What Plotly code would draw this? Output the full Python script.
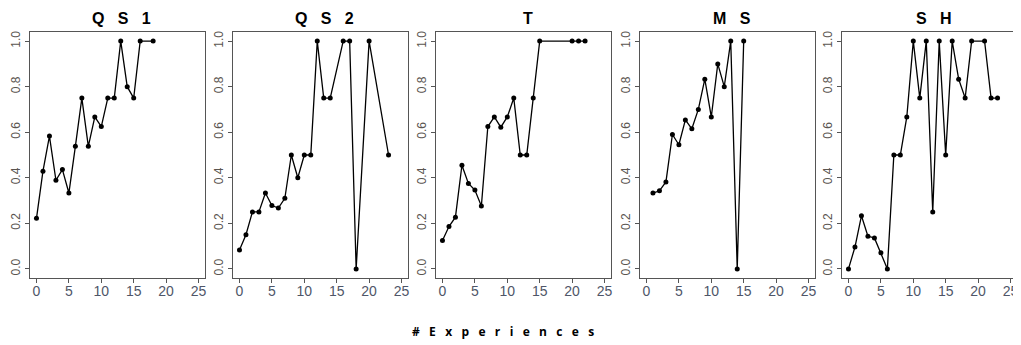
import plotly.graph_objects as go

titles = ["Q S 1", "Q S 2", "T", "M S", "S H"]

qs1_x = [0, 1, 2, 3, 4, 5, 6, 7, 8, 9, 10, 11, 12, 13, 14, 15, 16, 18]
qs1_y = [0.222, 0.429, 0.583, 0.389, 0.436, 0.333, 0.538, 0.75, 0.538, 0.667, 0.625, 0.75, 0.75, 1.0, 0.8, 0.75, 1.0, 1.0]

qs2_x = [0, 1, 2, 3, 4, 5, 6, 7, 8, 9, 10, 11, 12, 13, 14, 16, 17, 18, 20, 23]
qs2_y = [0.083, 0.15, 0.25, 0.25, 0.333, 0.278, 0.267, 0.31, 0.5, 0.4, 0.5, 0.5, 1.0, 0.75, 0.75, 1.0, 1.0, 0.0, 1.0, 0.5]

t_x = [0, 1, 2, 3, 4, 5, 6, 7, 8, 9, 10, 11, 12, 13, 14, 15, 20, 21, 22]
t_y = [0.125, 0.186, 0.227, 0.455, 0.375, 0.346, 0.276, 0.625, 0.667, 0.622, 0.667, 0.75, 0.5, 0.5, 0.75, 1.0, 1.0, 1.0, 1.0]

ms_x = [1, 2, 3, 4, 5, 6, 7, 8, 9, 10, 11, 12, 13, 14, 15]
ms_y = [0.333, 0.343, 0.382, 0.59, 0.545, 0.654, 0.615, 0.70, 0.833, 0.667, 0.90, 0.80, 1.0, 0.0, 1.0]

sh_x = [0, 1, 2, 3, 4, 5, 6, 7, 8, 9, 10, 11, 12, 13, 14, 15, 16, 17, 18, 19, 21, 22, 23]
sh_y = [0.0, 0.096, 0.233, 0.143, 0.136, 0.071, 0.0, 0.5, 0.5, 0.667, 1.0, 0.75, 1.0, 0.25, 1.0, 0.5, 1.0, 0.833, 0.75, 1.0, 1.0, 0.75, 0.75]

x_ticks = [0, 5, 10, 15, 20, 25]
y_ticks = [0.0, 0.2, 0.4, 0.6, 0.8, 1.0]
y_tick_labels = ["0.0", "0.2", "0.4", "0.6", "0.8", "1.0"]
x_label = "# E x p e r i e n c e s"

series = [(qs1_x, qs1_y), (qs2_x, qs2_y), (t_x, t_y), (ms_x, ms_y), (sh_x, sh_y)]

# The page body has an 8px default margin, so the figure is sized / positioned to compensate.
OFF = 8
W, H = 1021 - OFF, 345 - OFF
lefts = [30 - OFF, 233 - OFF, 436 - OFF, 640 - OFF, 842 - OFF]
width_px = 175
top_px, bottom_px = 32 - OFF, 278 - OFF

fig = go.Figure()
font_family = "Liberation Sans, Arial, sans-serif"
nb = "\u00a0"

layout = dict(
    template="none",
    width=W, height=H,
    margin=dict(l=0, r=0, t=0, b=0, pad=0),
    paper_bgcolor="white", plot_bgcolor="white",
    showlegend=False,
    font=dict(family=font_family, color="#4a4f5a", size=13),
)

annotations = []
for i, (xs, ys) in enumerate(series):
    n = "" if i == 0 else str(i + 1)
    fig.add_trace(go.Scatter(
        x=xs, y=ys, mode="lines+markers",
        line=dict(color="black", width=1.3),
        marker=dict(color="black", size=5),
        xaxis="x" + n, yaxis="y" + n,
        cliponaxis=False,
    ))
    x0 = lefts[i] / W
    x1 = (lefts[i] + width_px) / W
    common = dict(
        showline=True, mirror=True, linecolor="#555555", linewidth=1,
        showgrid=False, zeroline=False, ticks="outside", ticklen=4,
        tickcolor="#555555", tickwidth=1, automargin=False,
    )
    layout["xaxis" + n] = dict(
        domain=[x0, x1], range=[-1, 26], tickvals=x_ticks,
        anchor="y" + n, tickfont=dict(size=14, color="#4f5668"),
        ticklabelstandoff=-4, **common,
    )
    layout["yaxis" + n] = dict(
        domain=[(H - bottom_px) / H, (H - top_px) / H], range=[-0.04, 1.04],
        tickvals=y_ticks, ticktext=y_tick_labels, tickangle=-90,
        anchor="x" + n, tickfont=dict(size=12, color="#5a5550"), **common,
    )
    title_txt = (nb * 3).join(titles[i].split(" "))
    annotations.append(dict(
        text="<b>" + title_txt + "</b>", xref="paper", yref="paper",
        x=(lefts[i] + width_px / 2 + 4) / W, y=(H - 10.5) / H,
        showarrow=False, xanchor="center", yanchor="middle", borderpad=0,
        font=dict(size=16, color="black", family=font_family),
    ))

annotations.append(dict(
    text="<b>" + (nb * 3).join(x_label.split(" ")) + "</b>",
    xref="paper", yref="paper", x=(503 - OFF) / W, y=(H - (331 - OFF)) / H,
    showarrow=False, xanchor="center", yanchor="middle",
    font=dict(size=12, color="black", family="Open Sans, Liberation Sans, sans-serif"),
))
layout["annotations"] = annotations
fig.update_layout(**layout)
fig.write_html("out.html")
